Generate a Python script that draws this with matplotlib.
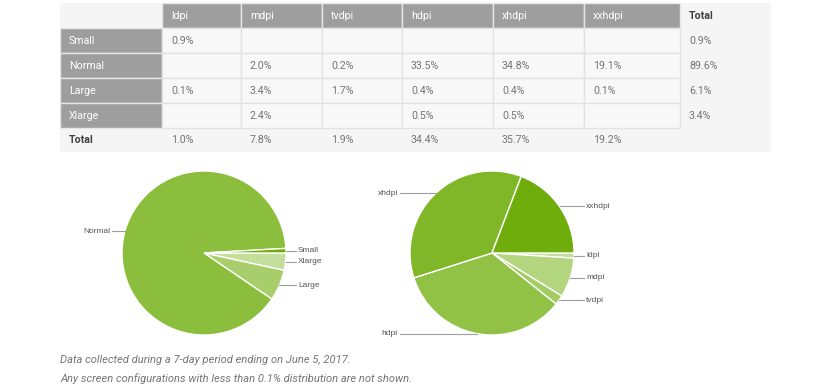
import numpy as np
import matplotlib.pyplot as plt
from matplotlib.patches import Rectangle
from matplotlib.colors import to_rgb, to_hex

# ---------------- data ----------------
sizes = ["Small", "Normal", "Large", "Xlarge"]
densities = ["ldpi", "mdpi", "tvdpi", "hdpi", "xhdpi", "xxhdpi"]
small = [0.9, None, None, None, None, None]
normal = [None, 2.0, 0.2, 33.5, 34.8, 19.1]
large = [0.1, 3.4, 1.7, 0.4, 0.4, 0.1]
xlarge = [None, 2.4, None, 0.5, 0.5, None]
size_total = [0.9, 89.6, 6.1, 3.4]
density_total = [1.0, 7.8, 1.9, 34.4, 35.7, 19.2]
notes = ["Data collected during a 7-day period ending on June 5, 2017.",
         "Any screen configurations with less than 0.1% distribution are not shown."]

W, H = 825, 389
fig = plt.figure(figsize=(W / 100, H / 100), dpi=100)
fig.patch.set_facecolor("white")
ax = fig.add_axes([0, 0, 1, 1])
ax.set_xlim(0, W)
ax.set_ylim(H, 0)
ax.axis("off")

# ---------------- table ----------------
col_x = [60, 162, 241, 322, 402, 493, 584, 680, 771]
row_y = [3, 28, 53, 78, 103, 128, 152]
head_c = "#9e9e9e"
txt_c = "#757575"
tfont = dict(family="Roboto", fontsize=7.7)

ax.add_patch(Rectangle((col_x[0], row_y[0]), col_x[-1] - col_x[0], row_y[-1] - row_y[0],
                       fc="#f5f5f5", ec="none"))

def cell_text(x, y, s, color=txt_c, bold=False):
    ax.text(x + 9, y, s, color=color, va="center", ha="left",
            fontweight="bold" if bold else "normal", **tfont)

for j, d in enumerate(densities):
    x0, x1 = col_x[j + 1], col_x[j + 2]
    ax.add_patch(Rectangle((x0, row_y[0]), x1 - x0, row_y[1] - row_y[0],
                           fc=head_c, ec="#e6e6e6", lw=1))
    cell_text(x0, (row_y[0] + row_y[1]) / 2, d, color="white")
cell_text(col_x[7], (row_y[0] + row_y[1]) / 2, "Total", color="#424242", bold=True)

body = [small, normal, large, xlarge]
for i, name in enumerate(sizes):
    y0, y1 = row_y[i + 1], row_y[i + 2]
    yc = (y0 + y1) / 2
    ax.add_patch(Rectangle((col_x[0], y0), col_x[1] - col_x[0], y1 - y0,
                           fc=head_c, ec="#e6e6e6", lw=1))
    cell_text(col_x[0], yc, name, color="white")
    for j, v in enumerate(body[i]):
        x0, x1 = col_x[j + 1], col_x[j + 2]
        ax.add_patch(Rectangle((x0, y0), x1 - x0, y1 - y0, fc="#f8f8f8", ec="#e3e3e3", lw=1))
        if v is not None:
            cell_text(x0, yc, f"{v:.1f}%")
    cell_text(col_x[7], yc, f"{size_total[i]:.1f}%")

yc = (row_y[5] + row_y[6]) / 2
cell_text(col_x[0], yc, "Total", color="#424242", bold=True)
for j, v in enumerate(density_total):
    cell_text(col_x[j + 1], yc, f"{v:.1f}%")

# ---------------- pies ----------------
def ramp(n):
    a, b = np.array(to_rgb("#c4df9b")), np.array(to_rgb("#6fad0c"))
    return [to_hex(a + (b - a) * t) for t in np.linspace(0, 1, n)]

R = 82          # radius in px
BOX = 240

def draw_pie(cx, cy, labels, values):
    pax = fig.add_axes([(cx - BOX / 2) / W, (H - cy - BOX / 2) / H, BOX / W, BOX / H])
    wedges, _ = pax.pie(values, colors=ramp(len(values)), startangle=0, counterclock=False,
                        radius=1, wedgeprops=dict(edgecolor="white", linewidth=1.0))
    k = BOX / 2 / R
    pax.set_xlim(-k, k)
    pax.set_ylim(-k, k)
    pax.axis("off")
    gap = 12 / R
    for w, lab in zip(wedges, labels):
        ang = np.deg2rad((w.theta1 + w.theta2) / 2)
        ex, ey = np.cos(ang), np.sin(ang)
        if ex >= 0:
            tx = 1 + gap
            pax.plot([ex, tx - 2 / R], [ey, ey], color="#9e9e9e", lw=0.8, clip_on=False)
            pax.text(tx, ey, lab, ha="left", va="center", fontsize=6.0,
                     family="Liberation Sans", color="#555555", clip_on=False)
        else:
            tx = -1 - gap
            pax.plot([tx + 2 / R, ex], [ey, ey], color="#9e9e9e", lw=0.8, clip_on=False)
            pax.text(tx, ey, lab, ha="right", va="center", fontsize=6.0,
                     family="Liberation Sans", color="#555555", clip_on=False)

draw_pie(204, 253, sizes[::-1], size_total[::-1])
draw_pie(492, 253, densities, density_total)

# ---------------- notes ----------------
for k, s in enumerate(notes):
    ax.text(60, 360 + 19 * k, s, ha="left", va="center", style="italic",
            color=txt_c, family="Roboto", fontsize=8.0)

fig.savefig("out.png", dpi=100)
